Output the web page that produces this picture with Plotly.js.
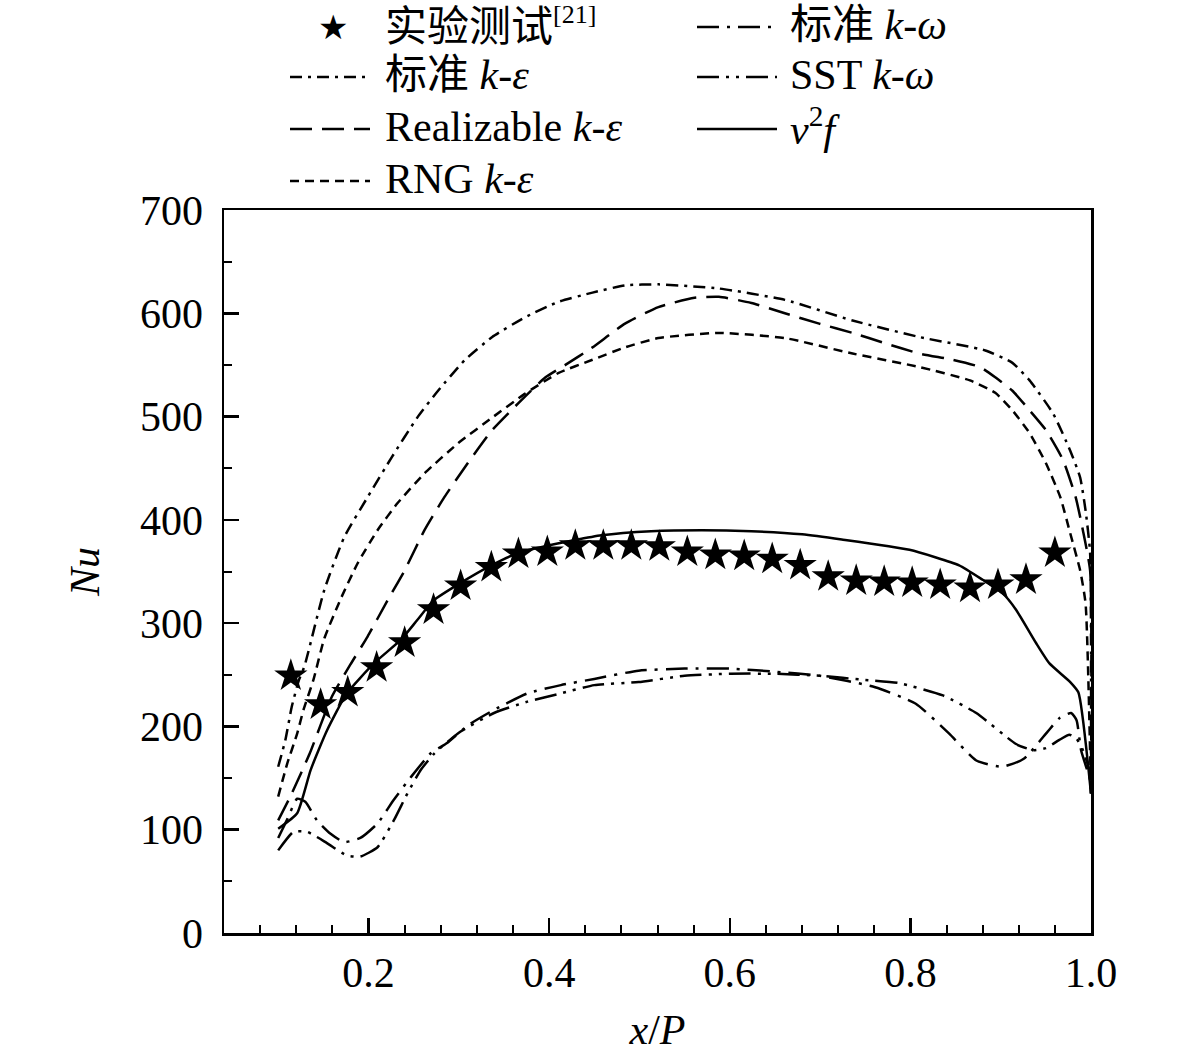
<!DOCTYPE html>
<html>
<head>
<meta charset="utf-8">
<script src="https://cdn.plot.ly/plotly-3.0.1.min.js"></script>
<style>
  html, body { margin: 0; padding: 0; background: #fff; }
  #nuPlot { width: 1181px; height: 1062px; }
</style>
</head>
<body>
<div id="nuPlot"></div>
<script>
// experiment [21]
const expX = [0.114, 0.147, 0.177, 0.209, 0.240, 0.272, 0.302, 0.336, 0.366, 0.398, 0.429, 0.460, 0.491, 0.522,
    0.553, 0.584, 0.616, 0.647, 0.678, 0.709, 0.740, 0.771, 0.802, 0.833, 0.866, 0.897, 0.928, 0.960];
const expNu = [249, 221, 233, 257, 281, 313, 336, 354, 367, 369, 375, 375, 375, 374,
    369, 366, 365, 362, 356, 345, 341, 340, 339, 337, 334, 337, 342, 368];

// standard k-epsilon
const stdKeX = [0.100, 0.108, 0.115, 0.123, 0.129, 0.151, 0.173, 0.199, 0.226, 0.254, 0.277, 0.307, 0.337, 0.373, 0.410,
    0.448, 0.484, 0.521, 0.588, 0.661, 0.736, 0.810, 0.883, 0.913, 0.932, 0.958, 0.977, 0.988, 0.994, 0.999, 1.000];
const stdKeNu = [161, 187, 219, 245, 258, 332, 383, 422, 461, 499, 525, 555, 577, 596, 611,
    620, 627, 628, 624, 613, 593, 577, 564, 552, 535, 503, 467, 441, 409, 368, 140];

// realizable k-epsilon
const realKeX = [0.100, 0.115, 0.135, 0.159, 0.180, 0.199, 0.221, 0.240, 0.262, 0.284, 0.310, 0.337, 0.366, 0.396, 0.418,
    0.448, 0.484, 0.521, 0.561, 0.588, 0.624, 0.661, 0.699, 0.736, 0.772, 0.810, 0.847, 0.877, 0.894, 0.913, 0.932,
    0.950, 0.969, 0.983, 0.991, 0.999, 1.000];
const realKeNu = [109, 135, 174, 228, 260, 287, 322, 351, 390, 422, 455, 487, 513, 538, 550,
    567, 590, 606, 615, 616, 610, 600, 590, 581, 571, 561, 555, 548, 538, 525, 506,
    487, 458, 422, 390, 351, 140];

// RNG k-epsilon
const rngKeX = [0.100, 0.110, 0.121, 0.128, 0.139, 0.151, 0.170, 0.188, 0.210, 0.232, 0.262, 0.299, 0.337, 0.373, 0.410,
    0.448, 0.484, 0.521, 0.588, 0.661, 0.736, 0.810, 0.866, 0.894, 0.913, 0.932, 0.950, 0.966, 0.977, 0.988, 0.994, 1.000];
const rngKeNu = [132, 164, 193, 216, 245, 285, 325, 358, 390, 416, 445, 474, 499, 522, 542,
    555, 567, 576, 581, 576, 561, 548, 535, 523, 506, 484, 455, 422, 387, 351, 319, 135];

// standard k-omega
const stdKwX = [0.100, 0.110, 0.121, 0.130, 0.143, 0.158, 0.173, 0.191, 0.210, 0.228, 0.247, 0.269, 0.287, 0.310, 0.339,
    0.376, 0.413, 0.450, 0.499, 0.550, 0.600, 0.650, 0.700, 0.761, 0.806, 0.843, 0.873, 0.902, 0.926, 0.952,
    0.965, 0.978, 0.984, 0.989, 0.999, 1.000];
const stdKwNu = [92, 110, 130, 127, 109, 96, 88, 92, 106, 129, 151, 174, 184, 201, 216,
    232, 240, 246, 254, 256, 256, 253, 249, 238, 222, 193, 167, 161, 169, 195,
    208, 213, 206, 177, 148, 135];

// SST k-omega
const sstKwX = [0.100, 0.117, 0.132, 0.154, 0.176, 0.191, 0.210, 0.228, 0.243, 0.258, 0.273, 0.302, 0.339, 0.376, 0.413,
    0.450, 0.499, 0.550, 0.600, 0.650, 0.700, 0.750, 0.787, 0.836, 0.873, 0.917, 0.936, 0.950, 0.965, 0.976,
    0.984, 0.991, 0.999, 1.000];
const sstKwNu = [80, 98, 98, 87, 75, 74, 83, 109, 135, 158, 174, 195, 213, 224, 232,
    240, 243, 249, 251, 251, 249, 245, 242, 230, 213, 183, 177, 179, 187, 192,
    188, 177, 155, 135];

// v2f
const v2fX = [0.100, 0.121, 0.136, 0.154, 0.176, 0.206, 0.236, 0.254, 0.272, 0.302, 0.336, 0.366, 0.398, 0.458, 0.513,
    0.569, 0.624, 0.680, 0.724, 0.799, 0.854, 0.880, 0.902, 0.917, 0.939, 0.954, 0.977, 0.986, 1.000];
const v2fNu = [101, 116, 158, 196, 232, 261, 284, 303, 322, 339, 356, 368, 375, 385, 389,
    390, 389, 386, 381, 371, 356, 342, 329, 313, 281, 261, 243, 233, 135];

const legendNames = ['实验测试<sup><span style="font-size:26px">[21]</span></sup>', '标准 <i>k</i>-<i>ε</i>',
    'Realizable <i>k</i>-<i>ε</i>', 'RNG <i>k</i>-<i>ε</i>',
    '标准 <i>k</i>-<i>ω</i>', 'SST <i>k</i>-<i>ω</i>', '<i>v</i><sup>2</sup><i>f</i>'];

const DASH_STDKE = '12px,6px,3px,6px';
const DASH_REAL = '22px,10px';
const DASH_RNG = '9px,6px';
const DASH_STDKW = '22px,8px,3px,8px';
const DASH_SST = '22px,7px,3px,7px,3px,7px';
const LW = 2.5;

function curve(x, y, name, dash) {
    return { type: 'scatter', mode: 'lines', x: x, y: y, name: name, showlegend: false,
        line: { color: '#000', width: LW, dash: dash, shape: 'spline', smoothing: 0.5 } };
}

const traces = [
    curve(stdKeX, stdKeNu, legendNames[1], DASH_STDKE),
    curve(realKeX, realKeNu, legendNames[2], DASH_REAL),
    curve(rngKeX, rngKeNu, legendNames[3], DASH_RNG),
    curve(stdKwX, stdKwNu, legendNames[4], DASH_STDKW),
    curve(sstKwX, sstKwNu, legendNames[5], DASH_SST),
    curve(v2fX, v2fNu, legendNames[6], 'solid'),
    { type: 'scatter', mode: 'markers', x: expX, y: expNu, name: legendNames[0], showlegend: false,
        marker: { symbol: 'star', size: 25, color: '#000', line: { width: 0 } } }
];

// hand-made legend, two columns like the original figure
const PW = 867, PH = 723, PL = 224, PT = 210;
function px2x(px) { return (px - PL) / PW; }
function px2y(py) { return (PT + PH - py) / PH; }
const rowsY = [27, 77, 129, 181];
const shapes = [];
const annotations = [];
function legendLine(col, row, dash) {
    const x0 = col === 0 ? 290 : 697, x1 = col === 0 ? 370 : 777;
    shapes.push({ type: 'line', xref: 'paper', yref: 'paper', x0: px2x(x0), x1: px2x(x1),
        y0: px2y(rowsY[row]), y1: px2y(rowsY[row]), line: { color: '#000', width: LW, dash: dash } });
}
function legendText(col, row, text) {
    annotations.push({ xref: 'paper', yref: 'paper', x: px2x(col === 0 ? 383 : 788), y: px2y(rowsY[row] - 2),
        xanchor: 'left', yanchor: 'middle', showarrow: false, text: text,
        font: { size: 42, color: '#000' } });
}
annotations.push({ xref: 'paper', yref: 'paper', x: px2x(333), y: px2y(rowsY[0]), xanchor: 'center', yanchor: 'middle',
    showarrow: false, text: '★', font: { family: 'DejaVu Sans', size: 34, color: '#000' } });
legendText(0, 0, legendNames[0]);
legendLine(0, 1, DASH_STDKE); legendText(0, 1, legendNames[1]);
legendLine(0, 2, DASH_REAL); legendText(0, 2, legendNames[2]);
legendLine(0, 3, DASH_RNG); legendText(0, 3, legendNames[3]);
legendLine(1, 0, DASH_STDKW); legendText(1, 0, legendNames[4]);
legendLine(1, 1, DASH_SST); legendText(1, 1, legendNames[5]);
legendLine(1, 2, 'solid'); legendText(1, 2, legendNames[6]);

const axisCommon = {
    showgrid: false, zeroline: false, showline: true, linewidth: 2.5, linecolor: '#000', mirror: true,
    ticks: 'inside', ticklen: 15, tickwidth: 2.5, tickcolor: '#000'
};

const layout = {
    width: 1181, height: 1062,
    margin: { l: PL, r: 1181 - PL - PW, t: PT, b: 1062 - PT - PH },
    paper_bgcolor: '#fff', plot_bgcolor: '#fff',
    font: { family: '"Liberation Serif", "Times New Roman", "Noto Sans CJK SC", serif', size: 42, color: '#000' },
    showlegend: false,
    xaxis: Object.assign({}, axisCommon, {
        range: [0.04, 1.0], tick0: 0, dtick: 0.2, tickformat: '.1f', ticklabelstandoff: 1,
        minor: { ticks: 'inside', tick0: 0, dtick: 0.04, ticklen: 8, tickwidth: 2, tickcolor: '#000' },
        title: { text: '<i>x</i>/<i>P</i>', standoff: 20, font: { size: 42 } }
    }),
    yaxis: Object.assign({}, axisCommon, {
        range: [0, 700], tick0: 0, dtick: 100, ticklabelstandoff: 10,
        minor: { ticks: 'inside', tick0: 0, dtick: 50, ticklen: 8, tickwidth: 2, tickcolor: '#000' },
        title: { text: '<i>Nu</i>', standoff: 28, font: { size: 42 } }
    }),
    shapes: shapes,
    annotations: annotations
};

Plotly.newPlot('nuPlot', traces, layout, { displayModeBar: false, staticPlot: true });
</script>
</body>
</html>
